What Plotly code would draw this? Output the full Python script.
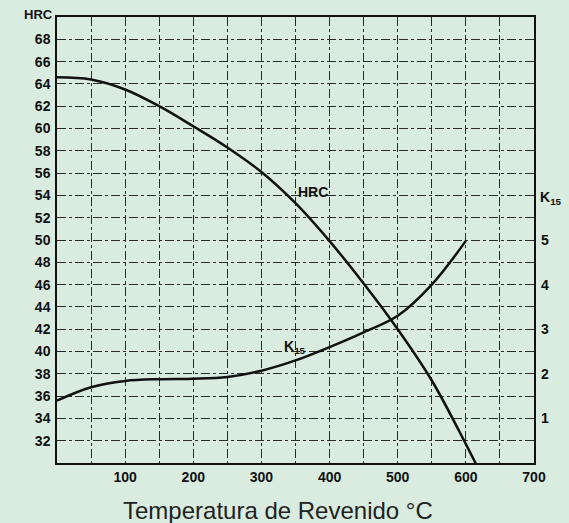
import plotly.graph_objects as go

# Data
temp_hrc = [0, 50, 100, 150, 200, 250, 300, 350, 400, 450, 500, 550, 600, 615]
hrc = [64.6, 64.4, 63.5, 62.0, 60.2, 58.3, 56.1, 53.3, 49.9, 46.1, 42.0, 37.4, 31.7, 29.9]

temp_k = [0, 50, 100, 150, 200, 250, 300, 350, 400, 450, 500, 550, 600]
k15 = [1.4, 1.7, 1.84, 1.88, 1.89, 1.93, 2.07, 2.3, 2.6, 2.93, 3.3, 4.0, 4.98]

x_ticks = list(range(0, 701, 50))
x_labels = [str(v) if (v % 100 == 0 and v > 0) else "" for v in x_ticks]
y_ticks = list(range(30, 71, 2))
y_labels = [str(v) if 30 < v < 70 else "" for v in y_ticks]
k_ticks = [1, 2, 3, 4, 5]

BG = "#d9ecdf"
GRID = "#2a2a2a"
FAM = "Liberation Sans, Arial, sans-serif"
tickfont = dict(family=FAM, size=14, color="#111", weight="bold")

fig = go.Figure()
fig.add_trace(go.Scatter(x=temp_hrc, y=hrc, mode="lines",
                         line=dict(color="#111", width=2.5, shape="spline", smoothing=1.0),
                         showlegend=False))
fig.add_trace(go.Scatter(x=temp_k, y=k15, mode="lines", yaxis="y2",
                         line=dict(color="#111", width=2.5, shape="spline", smoothing=1.0),
                         showlegend=False))

fig.update_layout(
    width=569, height=523,
    margin=dict(l=57, r=35, t=17, b=60),
    paper_bgcolor=BG, plot_bgcolor=BG,
    xaxis=dict(range=[0, 700], tickvals=x_ticks, ticktext=x_labels, showgrid=True,
               gridcolor=GRID, griddash="dashdot", gridwidth=1,
               showline=True, linecolor="#111", linewidth=1.5, mirror=True,
               ticks="", tickfont=tickfont, zeroline=False),
    yaxis=dict(range=[30, 70], tickvals=y_ticks, ticktext=y_labels, showgrid=True,
               gridcolor=GRID, griddash="dashdot", gridwidth=1,
               showline=True, linecolor="#111", linewidth=1.5, mirror=True,
               ticks="", ticklabelstandoff=2, tickfont=tickfont, zeroline=False),
    yaxis2=dict(range=[0, 10], overlaying="y", side="right", tickvals=k_ticks,
                ticktext=[str(v) for v in k_ticks], showgrid=False, zeroline=False,
                ticks="", ticklabelstandoff=6, tickfont=tickfont),
    annotations=[
        dict(text="Temperatura de Revenido °C", xref="paper", yref="paper", x=0.5, y=0,
             xanchor="center", yanchor="middle", xshift=-18, yshift=-47, showarrow=False,
             font=dict(family=FAM, size=24, color="#222")),
        dict(text="<b>HRC</b>", xref="paper", yref="paper", x=0, y=1, xanchor="right", yanchor="middle",
             xshift=-2, yshift=3, showarrow=False, font=dict(family=FAM, size=13, color="#111")),
        dict(text="<b>K<sub>15</sub></b>", xref="paper", yref="y", x=1, y=53.8, xanchor="left", yanchor="middle",
             xshift=4, showarrow=False, font=dict(family=FAM, size=14, color="#111")),
        dict(text="<b>HRC</b>", xref="x", yref="y", x=376, y=54.3, xanchor="center", yanchor="middle",
             showarrow=False, font=dict(family=FAM, size=14, color="#111")),
        dict(text="<b>K<sub>15</sub></b>", xref="x", yref="y", x=349, y=40.4, xanchor="center", yanchor="middle",
             showarrow=False, font=dict(family=FAM, size=14, color="#111")),
    ],
)

fig.write_html("out.html")
